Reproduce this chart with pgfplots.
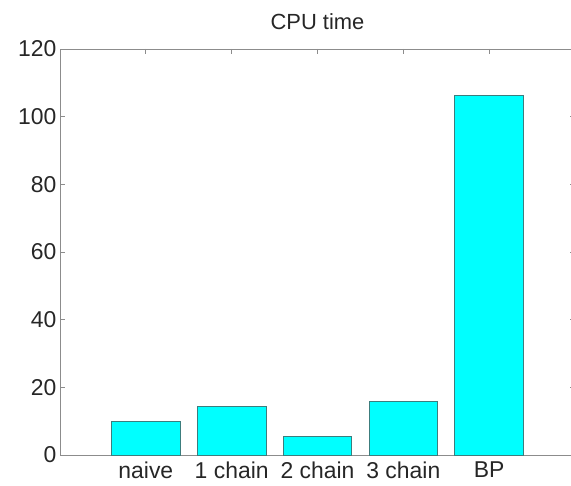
\documentclass[border=0pt]{standalone}
\usepackage{pgfplots}
\pgfplotsset{compat=1.18}
\usepackage{fontspec}
\setmainfont{Liberation Sans}
\definecolor{barfill}{rgb}{0,1,1}
\definecolor{baredge}{RGB}{60,125,125}
\definecolor{axgray}{RGB}{140,140,140}
\begin{document}
\begin{tikzpicture}
\begin{axis}[
  scale only axis,
  width=515bp, height=406bp,
  xmin=0, xmax=6, ymin=0, ymax=120,
  xtick={1,2,3,4,5},
  xticklabels={naive,1 chain,2 chain,3 chain,BP},
  ytick={0,20,40,60,80,100,120},
  tick align=inside,
  major tick length=5bp,
  axis line style={axgray, line width=0.8pt},
  tick style={axgray, line width=0.8pt},
  /pgf/number format/assume math mode=true,
  ticklabel style={font=\fontsize{23}{27}\selectfont, text=black!85},
  xticklabel style={yshift=-3bp},
  yticklabel style={xshift=0bp},
  title={CPU time},
  title style={font=\fontsize{22}{26}\selectfont, text=black!85, yshift=10bp},
  axis on top=false,
]
\addplot[ybar, bar width=0.8, fill=barfill, draw=baredge, line width=0.8pt]
  coordinates {(1,9.84) (2,14.4) (3,5.6) (4,15.7) (5,106.3)};
\end{axis}
\pgfresetboundingbox
\path[use as bounding box] ([xshift=-60bp,yshift=-30bp]current axis.south west) rectangle ([xshift=-4bp,yshift=49bp]current axis.north east);
\end{tikzpicture}
\end{document}
